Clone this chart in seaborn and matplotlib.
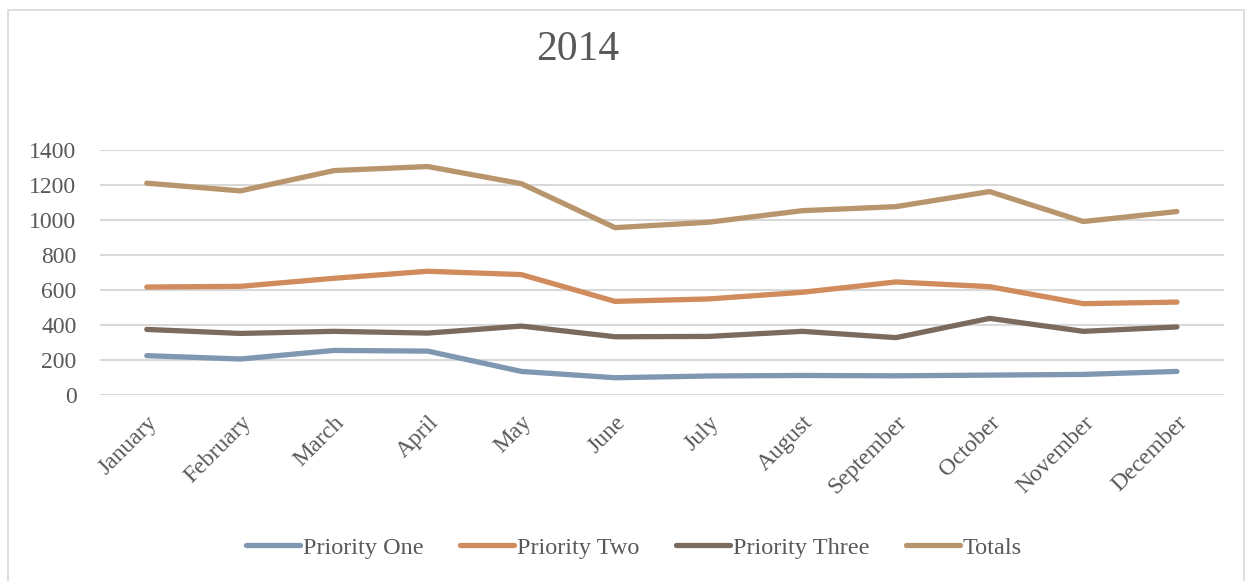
import matplotlib.pyplot as plt
import matplotlib.patches as patches
import pandas as pd
import seaborn as sns

months = ['January', 'February', 'March', 'April', 'May', 'June', 'July',
          'August', 'September', 'October', 'November', 'December']
priority_one = [225, 206, 255, 251, 135, 99, 109, 112, 110, 114, 118, 135]
priority_two = [617, 621, 667, 707, 688, 535, 549, 587, 646, 619, 522, 531]
priority_three = [375, 352, 364, 354, 394, 333, 335, 364, 328, 438, 364, 389]
totals = [1210, 1166, 1282, 1305, 1207, 956, 987, 1053, 1076, 1162, 991, 1048]

series_names = ['Priority One', 'Priority Two', 'Priority Three', 'Totals']
cores = ['#7f97b0', '#d08c5c', '#7b6a5e', '#b8956c']
cor_texto = '#595959'
cor_grade = '#d9d9d9'

df = pd.DataFrame({
    'mes': months * 4,
    'valor': priority_one + priority_two + priority_three + totals,
    'serie': sum([[nome] * len(months) for nome in series_names], []),
})

sns.set_style('white')
plt.rcParams['font.family'] = ['Liberation Serif', 'DejaVu Serif']

fig, ax = plt.subplots(figsize=(12.5, 5.81), dpi=100)
fig.subplots_adjust(left=0.08, right=0.979, bottom=0.32, top=0.742)

sns.lineplot(data=df, x='mes', y='valor', hue='serie', palette=cores,
             linewidth=3.8, sort=False, ax=ax)
for linha in ax.get_lines():
    linha.set_solid_capstyle('round')

ax.set_xlim(-0.5, 11.5)
ax.set_ylim(0, 1400)
ax.set_yticks(range(0, 1401, 200))
ax.yaxis.grid(True, color=cor_grade, linewidth=1.5)
ax.set_axisbelow(True)
sns.despine(ax=ax, left=True, bottom=True)
ax.set_xlabel('')
ax.set_ylabel('')

ax.tick_params(axis='y', labelsize=17, labelcolor=cor_texto, length=0, pad=17)
ax.tick_params(axis='x', labelsize=17, labelcolor=cor_texto, length=0, pad=12)
plt.setp(ax.get_xticklabels(), rotation=45, ha='right', rotation_mode='anchor')

fig.text(0.462, 0.914, '2014', ha='center', va='center', fontsize=30, color=cor_texto)

handles, labels = ax.get_legend_handles_labels()
ax.legend(handles, labels, loc='center', bbox_to_anchor=(0.507, 0.057),
          bbox_transform=fig.transFigure, ncol=4, frameon=False, fontsize=17.5,
          handlelength=2.25, handletextpad=0.1, columnspacing=1.5,
          labelcolor=cor_texto)

borda = patches.Rectangle((8 / 1250, -0.01), 1236 / 1250, 1 - 10 / 581 + 0.01,
                          transform=fig.transFigure, fill=False,
                          edgecolor=cor_grade, linewidth=1.2)
fig.patches.append(borda)

plt.savefig('out.png', dpi=100)
